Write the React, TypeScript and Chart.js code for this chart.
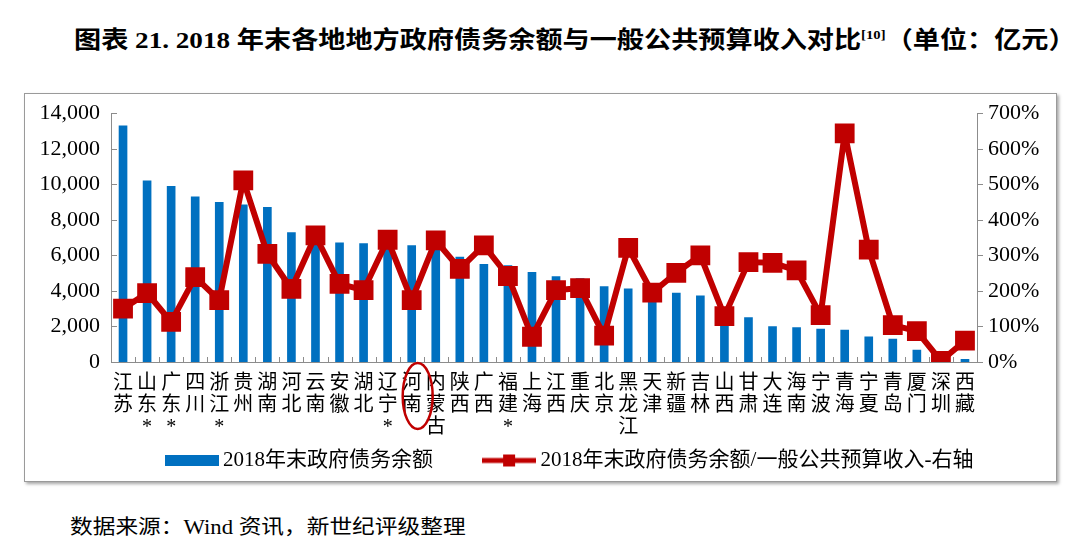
import React, { useEffect, useLayoutEffect, useRef } from "react";
import { Chart, registerables } from "chart.js";

Chart.register(...registerables);

// ---------- data ----------
const categories: string[] = [
  "江苏", "山东*", "广东*", "四川", "浙江*", "贵州", "湖南", "河北", "云南", "安徽",
  "湖北", "辽宁*", "河南", "内蒙古", "陕西", "广西", "福建*", "上海", "江西", "重庆",
  "北京", "黑龙江", "天津", "新疆", "吉林", "山西", "甘肃", "大连", "海南", "宁波",
  "青海", "宁夏", "青岛", "厦门", "深圳", "西藏",
];

// 2018年末政府债务余额（亿元）
const debtValues: number[] = [
  13285, 10197, 9880, 9300, 8980, 8850, 8700, 7280, 7110, 6700,
  6670, 6600, 6550, 6550, 5900, 5500, 5430, 5050, 4800, 4690,
  4250, 4120, 4080, 3880, 3730, 2950, 2500, 2000, 1940, 1850,
  1790, 1420, 1290, 670, 200, 150,
];

// 2018年末政府债务余额/一般公共预算收入（%）
const ratioValues: number[] = [
  150, 194, 113, 239, 174, 511, 304, 206, 356, 220,
  202, 344, 174, 342, 262, 328, 242, 71, 202, 208,
  74, 321, 195, 251, 300, 129, 281, 279, 258, 132,
  643, 316, 104, 87, 3, 60,
];

const seriesNames: string[] = [
  "2018年末政府债务余额",
  "2018年末政府债务余额/一般公共预算收入-右轴",
];

const highlightIndex = 12; // 河南

const titleText = "图表 21. 2018 年末各地地方政府债务余额与一般公共预算收入对比";
const titleSup = "[10]";
const titleUnit = "（单位：亿元）";
const sourceText = "数据来源：Wind 资讯，新世纪评级整理";

// ---------- styles ----------
const BLUE = "#0070C0";
const RED = "#C00000";
const AXIS = "#8c8c8c";
const FONT = "'Liberation Serif', 'Noto Sans CJK SC', serif";

const CANVAS_W = 1031;
const CANVAS_H = 392;
const CANVAS_OFFSET_Y = -5;
const LEFT_AXIS_W = 86;
const RIGHT_AXIS_W = 79;
const TOP_PAD = 13;
const AREA_TOP = 23;
const LEGEND_FONT = 21;
const LEGEND_PAD = 55;
const X_AXIS_H = CANVAS_H - AREA_TOP - 250 - (LEGEND_FONT + 10 + LEGEND_PAD);
const LEGEND_SHIFT = 31.5;

function makeBarIcon(): HTMLCanvasElement {
  const c = document.createElement("canvas");
  c.width = 54;
  c.height = 11;
  const ctx = c.getContext("2d")!;
  ctx.fillStyle = BLUE;
  ctx.fillRect(0, 0, 54, 11);
  return c;
}

function makeLineIcon(): HTMLCanvasElement {
  const c = document.createElement("canvas");
  c.width = 54;
  c.height = 14;
  const ctx = c.getContext("2d")!;
  ctx.fillStyle = RED;
  ctx.fillRect(0, 4.5, 54, 5);
  ctx.fillRect(21, 1, 12, 12);
  return c;
}

const tickMarksPlugin = {
  id: "tickMarks",
  afterDatasetsDraw(chart: any) {
    const ctx = chart.ctx;
    const area = chart.chartArea;
    const y = chart.scales.y;
    const y1 = chart.scales.y1;
    ctx.save();
    ctx.strokeStyle = AXIS;
    ctx.lineWidth = 1;
    ctx.beginPath();
    y.ticks.forEach((t: any) => {
      const py = Math.round(y.getPixelForValue(t.value)) + 0.5;
      ctx.moveTo(area.left, py);
      ctx.lineTo(area.left + 6, py);
    });
    y1.ticks.forEach((t: any) => {
      const py = Math.round(y1.getPixelForValue(t.value)) + 0.5;
      ctx.moveTo(area.right, py);
      ctx.lineTo(area.right + 6, py);
    });
    const n = categories.length;
    const step = (area.right - area.left) / n;
    for (let i = 0; i <= n; i++) {
      const px = Math.round(area.left + i * step) + 0.5;
      ctx.moveTo(px, area.bottom);
      ctx.lineTo(px, area.bottom - 5);
    }
    ctx.stroke();
    ctx.restore();
  },
};

const highlightPlugin = {
  id: "highlightCircle",
  afterDraw(chart: any) {
    const ctx = chart.ctx;
    const x = chart.scales.x.getPixelForValue(highlightIndex) + 6;
    const cy = chart.chartArea.bottom + 34;
    ctx.save();
    ctx.strokeStyle = RED;
    ctx.lineWidth = 2.5;
    ctx.beginPath();
    ctx.ellipse(x, cy, 15, 33, 0, 0, Math.PI * 2);
    ctx.stroke();
    ctx.restore();
  },
};

const layoutTweakPlugin = {
  id: "layoutTweak",
  afterLayout(chart: any) {
    if (chart.legend) {
      chart.legend.left += LEGEND_SHIFT;
      chart.legend.right += LEGEND_SHIFT;
    }
    const xs = chart.scales.x;
    if (xs) {
      xs.bottom = chart.height;
    }
  },
};

function ChartBox() {
  const ref = useRef<HTMLCanvasElement | null>(null);

  useEffect(() => {
    if (!ref.current) return;
    const icons = [makeBarIcon(), makeLineIcon()];
    const labels = categories.map((c) => c.split(""));
    const chart = new Chart(ref.current, {
      data: {
        labels,
        datasets: [
          {
            type: "bar",
            label: seriesNames[0],
            data: debtValues,
            backgroundColor: BLUE,
            barThickness: 8,
            yAxisID: "y",
            order: 2,
          },
          {
            type: "line",
            label: seriesNames[1],
            data: ratioValues,
            borderColor: RED,
            backgroundColor: RED,
            borderWidth: 6,
            borderJoinStyle: "round",
            pointStyle: "rect",
            pointRadius: 14,
            pointHoverRadius: 14,
            pointBackgroundColor: RED,
            pointBorderColor: RED,
            pointBorderWidth: 0,
            tension: 0,
            yAxisID: "y1",
            order: 1,
          },
        ],
      } as any,
      options: {
        animation: false,
        responsive: false,
        maintainAspectRatio: false,
        devicePixelRatio: 1,
        layout: { padding: { top: TOP_PAD, left: 0, right: 0, bottom: 0 } },
        events: [],
        plugins: {
          tooltip: { enabled: false },
          legend: {
            position: "bottom",
            labels: {
              usePointStyle: true,
              pointStyleWidth: 42,
              boxHeight: 14,
              padding: LEGEND_PAD,
              color: "#000",
              font: { family: FONT, size: LEGEND_FONT },
              generateLabels: (ch: any) =>
                ch.data.datasets.map((ds: any, i: number) => ({
                  text: ds.label,
                  datasetIndex: i,
                  pointStyle: icons[i],
                  fillStyle: i === 0 ? BLUE : RED,
                  strokeStyle: i === 0 ? BLUE : RED,
                  lineWidth: 0,
                  hidden: false,
                  fontColor: "#000",
                })),
            },
          },
        },
        scales: {
          x: {
            type: "category",
            offset: true,
            grid: { display: false, drawTicks: false },
            border: { display: true, color: AXIS, width: 1 },
            ticks: {
              autoSkip: false,
              maxRotation: 0,
              minRotation: 0,
              padding: 11,
              color: "#000",
              font: { family: FONT, size: 20, lineHeight: 1.1 },
            },
            afterFit: (s: any) => {
              s.height = X_AXIS_H;
            },
          },
          y: {
            position: "left",
            min: 0,
            max: 14000,
            grid: { display: false, drawTicks: false },
            border: { display: true, color: AXIS, width: 1 },
            ticks: {
              stepSize: 2000,
              padding: 11,
              color: "#000",
              font: { family: FONT, size: 22 },
              callback: (v: any) => Number(v).toLocaleString("en-US"),
            },
            afterFit: (s: any) => {
              s.width = LEFT_AXIS_W;
            },
          },
          y1: {
            position: "right",
            min: 0,
            max: 700,
            grid: { display: false, drawTicks: false },
            border: { display: true, color: AXIS, width: 1 },
            ticks: {
              stepSize: 100,
              padding: 11,
              color: "#000",
              font: { family: FONT, size: 22 },
              callback: (v: any) => `${v}%`,
            },
            afterFit: (s: any) => {
              s.width = RIGHT_AXIS_W;
            },
          },
        },
      } as any,
      plugins: [layoutTweakPlugin, tickMarksPlugin, highlightPlugin],
    });
    return () => chart.destroy();
  }, []);

  return (
    <canvas
      ref={ref}
      width={CANVAS_W}
      height={CANVAS_H}
      style={{
        display: "block",
        position: "absolute",
        left: 0,
        top: CANVAS_OFFSET_Y,
        width: CANVAS_W,
        height: CANVAS_H,
      }}
    />
  );
}

function FitText(props: {
  left: number;
  top: number;
  width: number;
  lineHeight: number;
  style: React.CSSProperties;
  children: React.ReactNode;
}) {
  const ref = useRef<HTMLDivElement | null>(null);
  useLayoutEffect(() => {
    const el = ref.current;
    if (!el) return;
    const w = el.offsetWidth;
    if (w > 0) el.style.transform = `scaleX(${props.width / w})`;
  });
  return (
    <div
      ref={ref}
      style={{
        position: "absolute",
        left: props.left,
        top: props.top,
        display: "inline-block",
        whiteSpace: "nowrap",
        lineHeight: `${props.lineHeight}px`,
        transformOrigin: "left top",
        color: "#000",
        ...props.style,
      }}
    >
      {props.children}
    </div>
  );
}

export default function App() {
  return (
    <div
      style={{
        position: "absolute",
        left: 0,
        top: 0,
        width: 1080,
        height: 560,
        background: "#fff",
        overflow: "hidden",
      }}
    >
      <FitText
        left={74}
        top={26}
        width={1002}
        lineHeight={28}
        style={{ fontFamily: FONT, fontWeight: "bold", fontSize: 24 }}
      >
        {titleText}
        <sup style={{ fontSize: 13, lineHeight: 0 }}>{titleSup}</sup>
        {titleUnit}
      </FitText>
      <div
        style={{
          position: "absolute",
          left: 24,
          top: 93,
          width: 1033,
          height: 389,
          boxSizing: "border-box",
          border: "1px solid #9a9a9a",
          boxShadow: "2px 2px 3px rgba(0,0,0,0.35)",
          background: "#fff",
        }}
      >
        <ChartBox />
      </div>
      <FitText
        left={70}
        top={515}
        width={396}
        lineHeight={24}
        style={{ fontFamily: FONT, fontSize: 20 }}
      >
        {sourceText}
      </FitText>
    </div>
  );
}
